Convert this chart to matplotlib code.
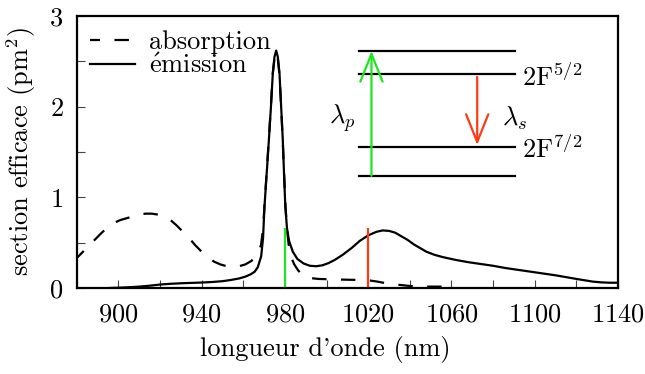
import matplotlib
matplotlib.use("Agg")
import matplotlib.pyplot as plt
from matplotlib.ticker import MultipleLocator

plt.rcParams['font.family'] = ['cmr10', 'DejaVu Serif']
plt.rcParams['mathtext.fontset'] = 'cm'
plt.rcParams['axes.formatter.use_mathtext'] = True

# Absorption cross-section (pm^2) vs wavelength (nm)
abs_wl = [880, 883, 886, 889, 892, 895, 898, 901, 904, 907, 910, 913, 916, 919,
          922, 925, 928, 931, 934, 937, 940, 943, 946, 949, 952, 955, 958, 961,
          964, 966.5, 968.5, 969.5, 970.3, 971.3, 972.3, 973.3, 974.2, 975, 975.8,
          976.6, 977.4, 978.2, 979, 979.7, 980.3, 981, 981.8, 983, 984.5, 986.5,
          989, 992, 996, 1000, 1005, 1010, 1015, 1020, 1024, 1028, 1032, 1036,
          1040, 1045, 1050, 1056]
abs_val = [0.33, 0.40, 0.47, 0.54, 0.61, 0.67, 0.72, 0.75, 0.77, 0.79, 0.81, 0.82,
           0.82, 0.81, 0.79, 0.75, 0.69, 0.62, 0.55, 0.47, 0.40, 0.34, 0.29, 0.26,
           0.24, 0.235, 0.24, 0.26, 0.30, 0.37, 0.47, 0.65, 0.95, 1.30, 1.65, 2.02,
           2.37, 2.53, 2.60, 2.53, 2.35, 2.00, 1.60, 1.22, 0.90, 0.66, 0.48, 0.34,
           0.26, 0.19, 0.13, 0.11, 0.10, 0.097, 0.094, 0.091, 0.089, 0.085, 0.072,
           0.055, 0.042, 0.032, 0.022, 0.016, 0.015, 0.015]

# Emission cross-section (pm^2) vs wavelength (nm)
em_wl = [896, 900, 905, 910, 915, 920, 925, 930, 935, 940, 945, 950, 954, 958,
         961, 963.5, 965.5, 967, 968.6, 969.5, 970.2, 971.3, 972.3, 973.3, 974.2,
         975, 975.8, 976.6, 977.4, 978.2, 979, 979.6, 980.2, 981, 982, 983.8, 986,
         989, 992, 995, 998, 1001, 1004, 1008, 1012, 1016, 1020, 1024, 1027, 1030,
         1033, 1036, 1039, 1042, 1045, 1048, 1052, 1056, 1062, 1068, 1074, 1080,
         1086, 1092, 1098, 1104, 1110, 1115, 1120, 1124, 1128, 1132, 1136, 1140]
em_val = [0.0, 0.003, 0.008, 0.015, 0.025, 0.038, 0.046, 0.052, 0.056, 0.060, 0.066,
          0.075, 0.088, 0.105, 0.125, 0.15, 0.18, 0.23, 0.35, 0.55, 0.90, 1.28, 1.63,
          2.00, 2.37, 2.55, 2.62, 2.55, 2.37, 2.00, 1.63, 1.25, 0.90, 0.66, 0.52,
          0.40, 0.32, 0.27, 0.245, 0.24, 0.25, 0.275, 0.31, 0.37, 0.44, 0.52, 0.58,
          0.62, 0.635, 0.63, 0.61, 0.57, 0.53, 0.48, 0.44, 0.40, 0.365, 0.34, 0.31,
          0.285, 0.265, 0.245, 0.22, 0.20, 0.18, 0.16, 0.14, 0.12, 0.10, 0.085,
          0.07, 0.062, 0.058, 0.058]

# Pump / signal wavelengths and marker height
pump_wl = 980
signal_wl = 1020
marker_h = 0.66

# Energy level diagram (drawn in data coordinates)
level_x = [1015.4, 1090.4]
levels = [2.616, 2.356, 1.558, 1.238]
pump_x, pump_from, pump_to = 1021.6, 1.238, 2.616
sig_x, sig_from, sig_to = 1072.4, 2.33, 1.577

green = '#1ee61e'
red = '#ff3a14'

fig = plt.figure(figsize=(6.45, 3.74), dpi=100)
ax = fig.add_axes([0.119, 0.23, 0.839, 0.727])

ax.plot(abs_wl, abs_val, color='black', lw=1.6, ls=(2, (6.5, 6.5)), label='absorption')
ax.plot(em_wl, em_val, color='black', lw=1.6, label=r'$\acute{\mathrm{e}}$mission')

ax.vlines(pump_wl, 0, marker_h, color=green, lw=1.6)
ax.vlines(signal_wl, 0, marker_h, color=red, lw=1.6)

for lv in levels:
    ax.plot(level_x, [lv, lv], color='black', lw=1.6)

head = '->,head_length=2.0,head_width=0.8'
ax.annotate('', xy=(pump_x, pump_to), xytext=(pump_x, pump_from),
            arrowprops=dict(arrowstyle=head, color=green, lw=1.6,
                            shrinkA=0, shrinkB=0, mutation_scale=10))
ax.annotate('', xy=(sig_x, sig_to), xytext=(sig_x, sig_from),
            arrowprops=dict(arrowstyle=head, color=red, lw=1.6,
                            shrinkA=0, shrinkB=0, mutation_scale=10))

fs = 19
ax.text(1007.5, 1.87, r'$\lambda_p$', fontsize=fs, ha='center', va='center')
ax.text(1090.5, 1.87, r'$\lambda_s$', fontsize=fs, ha='center', va='center')
ax.text(1094.0, 2.33, r'2F$^{5/2}$', fontsize=fs, ha='left', va='center')
ax.text(1094.0, 1.53, r'2F$^{7/2}$', fontsize=fs, ha='left', va='center')

ax.set_xlim(880, 1140)
ax.set_ylim(0, 3)
ax.set_xticks([900, 940, 980, 1020, 1060, 1100, 1140])
ax.xaxis.set_minor_locator(MultipleLocator(20))
ax.yaxis.set_major_locator(MultipleLocator(1))
ax.yaxis.set_minor_locator(MultipleLocator(0.5))
ax.tick_params(which='both', direction='in', length=5.5, width=0.8, color='#444444',
               top=False, right=False, labelsize=fs)
ax.tick_params(axis='x', which='both', pad=11)
ax.tick_params(axis='y', which='both', pad=9.5)
for sp in ax.spines.values():
    sp.set_linewidth(1.6)

ax.set_xlabel("longueur d'onde (nm)", fontsize=fs)
ax.set_ylabel(r'section efficace (pm$^2$)', fontsize=fs)
ax.xaxis.set_label_coords(0.46, -0.175)
ax.yaxis.set_label_coords(-0.072, 0.5)

leg = ax.legend(loc='upper left', frameon=False, fontsize=fs, handlelength=1.7,
                handletextpad=0.55, labelspacing=0.0, borderaxespad=0.1,
                bbox_to_anchor=(0.0, 0.997))

fig.savefig('out.png', dpi=100)
